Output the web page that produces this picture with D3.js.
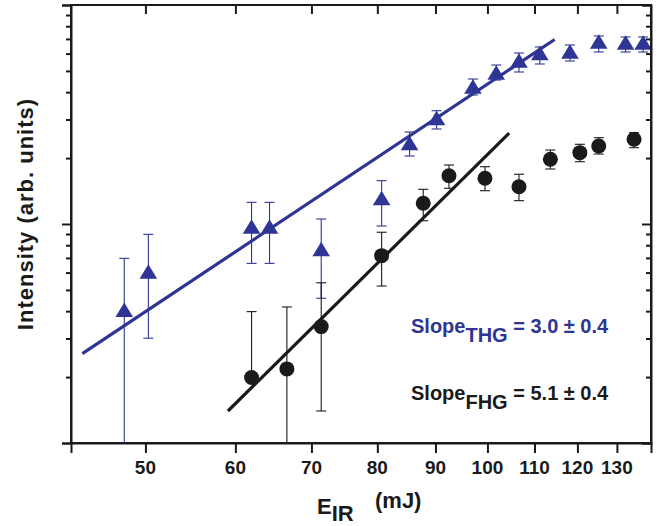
<!DOCTYPE html>
<html lang="en">
<head>
<meta charset="UTF-8">
<title>THG / FHG intensity vs E_IR</title>
<script src="https://cdn.jsdelivr.net/npm/d3@7"></script>
<style>
  body { margin: 0; background: #fff; }
  svg text { font-family: "Liberation Sans", Arial, sans-serif; font-weight: bold; }
</style>
</head>
<body>
<svg width="658" height="526"></svg>
<script>
// data (E_IR in mJ, intensity in arb. units)
var thgE  = [47.9, 50.3, 62.0, 64.3, 71.4, 80.7, 85.4, 90.2, 97.1, 101.8, 106.6, 111.2, 118.2, 125.3, 132.3, 137.1];
var thgI  = [0.405, 0.606, 0.972, 0.972, 0.766, 1.310, 2.336, 3.039, 4.237, 4.908, 5.568, 6.018, 6.120, 6.800, 6.730, 6.730];
var thgHi = [0.697, 0.897, 1.256, 1.256, 1.054, 1.577, 2.631, 3.291, 4.593, 5.321, 6.037, 6.431, 6.568, 7.220, 7.145, 7.145];
var thgLo = [0.08, 0.301, 0.661, 0.661, 0.458, 0.979, 2.044, 2.716, 3.882, 4.545, 4.944, 5.378, 5.550, 6.101, 6.101, 6.101];

var fhgE  = [62.0, 66.6, 71.4, 80.7, 87.8, 92.5, 99.5, 106.6, 113.6, 120.6, 125.3, 134.6];
var fhgI  = [0.199, 0.218, 0.340, 0.717, 1.243, 1.662, 1.617, 1.480, 1.974, 2.117, 2.271, 2.436];
var fhgHi = [0.398, 0.418, 0.539, 0.917, 1.440, 1.859, 1.826, 1.687, 2.177, 2.312, 2.478, 2.612];
var fhgLo = [0.199, 0.08, 0.140, 0.521, 1.035, 1.456, 1.419, 1.278, 1.783, 1.925, 2.087, 2.230];

// linear fits in log-log space (end points)
var thgFitE = [44.0, 114.6], thgFitI = [0.256, 6.96];
var fhgFitE = [59.1, 104.5], fhgFitI = [0.140, 2.60];

var xTicks = [50, 60, 70, 80, 90, 100, 110, 120, 130];
var yMajor = [0.1, 1, 10];
var yMinor = [0.2, 0.3, 0.4, 0.5, 0.6, 0.7, 0.8, 0.9, 2, 3, 4, 5, 6, 7, 8, 9];

var blue = '#2e3595', black = '#1a1a1a';
var FONT = '"Liberation Sans", Arial, sans-serif';

var svg = d3.select('svg');
var L = 71, R = 651, T = 5, B = 443;

var x = d3.scaleLog().domain([43, 139.3]).range([L, R]);
var y = d3.scaleLog().domain([0.1, 10]).range([B, T]);

svg.append('clipPath').attr('id', 'clip')
  .append('rect').attr('x', L).attr('y', T).attr('width', R - L).attr('height', B - T);

var plot = svg.append('g').attr('clip-path', 'url(#clip)');

function zip(e, v, hi, lo) {
  return e.map(function(d, i) { return {e: d, v: v[i], hi: hi[i], lo: lo[i]}; });
}
var thg = zip(thgE, thgI, thgHi, thgLo);
var fhg = zip(fhgE, fhgI, fhgHi, fhgLo);

// fit lines
var line = d3.line().x(function(d) { return x(d[0]); }).y(function(d) { return y(d[1]); });
plot.append('path').attr('d', line(d3.zip(thgFitE, thgFitI)))
  .attr('stroke', blue).attr('stroke-width', 3.2).attr('fill', 'none');
plot.append('path').attr('d', line(d3.zip(fhgFitE, fhgFitI)))
  .attr('stroke', black).attr('stroke-width', 3.2).attr('fill', 'none');

// error bars
function errBars(data, color) {
  var g = plot.append('g').attr('stroke', color).attr('stroke-width', 1.1).attr('fill', 'none');
  var cap = 5;
  data.forEach(function(d) {
    var cx = x(d.e);
    g.append('line').attr('x1', cx).attr('x2', cx).attr('y1', y(d.hi)).attr('y2', y(d.lo));
    g.append('line').attr('x1', cx - cap).attr('x2', cx + cap).attr('y1', y(d.hi)).attr('y2', y(d.hi));
    if (d.lo < d.v)
      g.append('line').attr('x1', cx - cap).attr('x2', cx + cap).attr('y1', y(d.lo)).attr('y2', y(d.lo));
  });
}
errBars(thg, blue);
errBars(fhg, black);

// markers
plot.append('g').selectAll('path').data(thg).enter().append('path')
  .attr('d', 'M0,-7.5L8.8,7L-8.8,7Z')
  .attr('transform', function(d) { return 'translate(' + x(d.e) + ',' + y(d.v) + ')'; })
  .attr('fill', blue);

plot.append('g').selectAll('circle').data(fhg).enter().append('circle')
  .attr('cx', function(d) { return x(d.e); })
  .attr('cy', function(d) { return y(d.v); })
  .attr('r', 7.5)
  .attr('fill', black);

// axes
var axB = svg.append('g').attr('transform', 'translate(0,' + B + ')')
  .call(d3.axisBottom(x).tickValues(xTicks).tickFormat('').tickSize(10));
var axT = svg.append('g').attr('transform', 'translate(0,' + T + ')')
  .call(d3.axisTop(x).tickValues(xTicks).tickFormat('').tickSize(-9));
var axLmaj = svg.append('g').attr('transform', 'translate(' + L + ',0)')
  .call(d3.axisLeft(y).tickValues(yMajor).tickFormat('').tickSize(9));
var axLmin = svg.append('g').attr('transform', 'translate(' + L + ',0)')
  .call(d3.axisLeft(y).tickValues(yMinor).tickFormat('').tickSize(5));
var axRmaj = svg.append('g').attr('transform', 'translate(' + R + ',0)')
  .call(d3.axisRight(y).tickValues(yMajor).tickFormat('').tickSize(-9));
var axRmin = svg.append('g').attr('transform', 'translate(' + R + ',0)')
  .call(d3.axisRight(y).tickValues(yMinor).tickFormat('').tickSize(-5));

[axB, axT, axLmaj, axLmin, axRmaj, axRmin].forEach(function(a) {
  a.select('.domain').attr('stroke', black).attr('stroke-width', 2);
  a.selectAll('.tick line').attr('stroke', black).attr('stroke-width', 2);
  a.selectAll('.tick text').remove();
});
[axT, axLmin, axRmin].forEach(function(a) { a.select('.domain').remove(); });
svg.append('rect').attr('x', L).attr('y', T).attr('width', R - L).attr('height', B - T)
  .attr('fill', 'none').attr('stroke', black).attr('stroke-width', 2);

// x tick labels, bold
svg.append('g').selectAll('text').data(xTicks).enter().append('text')
  .attr('x', function(d) { return x(d); })
  .attr('y', 474)
  .attr('text-anchor', 'middle')
  .attr('font-size', 19)
  .attr('font-weight', 700)
  .attr('fill', black)
  .text(function(d) { return d; });

// axis titles
var xt = svg.append('text').attr('x', 317).attr('y', 514).attr('font-size', 22).attr('fill', black);
xt.append('tspan').text('E');
xt.append('tspan').attr('dy', 7).text('IR');
xt.append('tspan').attr('x', 375).attr('dy', -13).text('(mJ)');

svg.append('text').attr('transform', 'translate(33,214) rotate(-90)')
  .attr('text-anchor', 'middle').attr('font-size', 22).attr('letter-spacing', 1).attr('fill', black)
  .text('Intensity (arb. units)');

// slope annotations
function slope(ty, sub, rest, color) {
  var t = svg.append('text').attr('x', 411).attr('y', ty).attr('font-size', 20).attr('fill', color);
  t.append('tspan').text('Slope');
  t.append('tspan').attr('dy', 9).text(sub);
  t.append('tspan').attr('dy', -9).text(' ' + rest);
}
slope(333, 'THG', '= 3.0 ± 0.4', blue);
slope(400, 'FHG', '= 5.1 ± 0.4', black);
</script>
</body>
</html>
